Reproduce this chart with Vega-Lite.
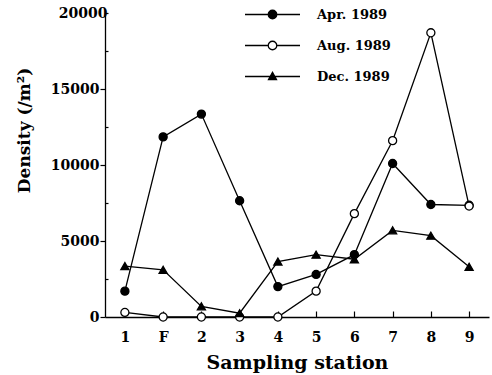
{
  "$schema": "https://vega.github.io/schema/vega-lite/v6.json",
  "width": 384,
  "height": 304,
  "autosize": "none",
  "padding": {"left": 105, "top": 13, "right": 3, "bottom": 58},
  "background": "white",
  "config": {
    "view": {"stroke": null},
    "font": "DejaVu Serif",
    "axis": {"labelFont": "DejaVu Serif", "titleFont": "DejaVu Serif", "labelFontWeight": "bold", "titleFontWeight": "bold", "labelColor": "black", "titleColor": "black", "domainColor": "black", "tickColor": "black", "grid": false}
  },
  "data": {"values": [
    {"station": "1", "series": "Apr. 1989", "density": 1700},
    {"station": "F", "series": "Apr. 1989", "density": 11850},
    {"station": "2", "series": "Apr. 1989", "density": 13350},
    {"station": "3", "series": "Apr. 1989", "density": 7650},
    {"station": "4", "series": "Apr. 1989", "density": 2000},
    {"station": "5", "series": "Apr. 1989", "density": 2800},
    {"station": "6", "series": "Apr. 1989", "density": 4100},
    {"station": "7", "series": "Apr. 1989", "density": 10100},
    {"station": "8", "series": "Apr. 1989", "density": 7400},
    {"station": "9", "series": "Apr. 1989", "density": 7350},
    {"station": "1", "series": "Aug. 1989", "density": 300},
    {"station": "F", "series": "Aug. 1989", "density": 0},
    {"station": "2", "series": "Aug. 1989", "density": 0},
    {"station": "3", "series": "Aug. 1989", "density": 0},
    {"station": "4", "series": "Aug. 1989", "density": 0},
    {"station": "5", "series": "Aug. 1989", "density": 1700},
    {"station": "6", "series": "Aug. 1989", "density": 6800},
    {"station": "7", "series": "Aug. 1989", "density": 11600},
    {"station": "8", "series": "Aug. 1989", "density": 18700},
    {"station": "9", "series": "Aug. 1989", "density": 7300},
    {"station": "1", "series": "Dec. 1989", "density": 3350},
    {"station": "F", "series": "Dec. 1989", "density": 3100},
    {"station": "2", "series": "Dec. 1989", "density": 700},
    {"station": "3", "series": "Dec. 1989", "density": 250},
    {"station": "4", "series": "Dec. 1989", "density": 3650},
    {"station": "5", "series": "Dec. 1989", "density": 4100},
    {"station": "6", "series": "Dec. 1989", "density": 3800},
    {"station": "7", "series": "Dec. 1989", "density": 5700},
    {"station": "8", "series": "Dec. 1989", "density": 5350},
    {"station": "9", "series": "Dec. 1989", "density": 3300}
  ]},
  "encoding": {
    "x": {
      "field": "station", "type": "nominal",
      "sort": ["1", "F", "2", "3", "4", "5", "6", "7", "8", "9"],
      "scale": {"type": "point", "padding": 0.52},
      "axis": {"title": "Sampling station", "labelAngle": 0, "labelFontSize": 14, "titleFontSize": 19, "tickSize": -6, "labelPadding": 19, "titlePadding": 9, "domainWidth": 1.3, "tickWidth": 1.2}
    },
    "y": {
      "field": "density", "type": "quantitative",
      "scale": {"domain": [0, 20000], "nice": false},
      "axis": {"title": "Density (/m²)", "format": "d", "values": [0, 2500, 5000, 7500, 10000, 12500, 15000, 17500, 20000],
        "labelExpr": "datum.value % 5000 === 0 ? datum.label : ''",
        "labelFontSize": 14, "titleFontSize": 17,
        "tickSize": {"condition": {"test": "datum.value % 5000 === 0 && datum.value < 20000", "value": 5}, "value": -3},
        "labelPadding": 1, "domainWidth": 1.3, "tickWidth": 1.2, "titleAngle": 270, "titleX": -81, "titleY": 117, "titleAlign": "center", "titleBaseline": "middle"}
    }
  },
  "layer": [
    {
      "mark": {"type": "line", "color": "black", "strokeWidth": 1.3},
      "encoding": {"detail": {"field": "series", "type": "nominal"}}
    },
    {
      "mark": {"type": "point", "filled": false, "stroke": "black", "strokeWidth": 1.3, "opacity": 1},
      "encoding": {
        "shape": {"field": "series", "type": "nominal", "scale": {"domain": ["Apr. 1989", "Aug. 1989", "Dec. 1989"], "range": ["circle", "circle", "triangle-up"]}, "legend": null},
        "fill": {"field": "series", "type": "nominal", "scale": {"domain": ["Apr. 1989", "Aug. 1989", "Dec. 1989"], "range": ["black", "white", "black"]}, "legend": null},
        "size": {"value": 65}
      }
    },
    {
      "transform": [{"filter": "false"}],
      "mark": {"type": "point", "filled": true, "strokeWidth": 1.3, "opacity": 1, "strokeOpacity": 1},
      "encoding": {
        "shape": {"field": "series", "type": "nominal", "scale": {"domain": ["Apr. 1989", "Aug. 1989", "Dec. 1989"], "range": [
          "M-5.5,0H-0.85M0.85,0H5.5M0.85,0A0.85,0.85,0,1,1,-0.85,0A0.85,0.85,0,1,1,0.85,0Z",
          "M-5.5,0H-0.85M0.85,0H5.5M0.85,0A0.85,0.85,0,1,1,-0.85,0A0.85,0.85,0,1,1,0.85,0Z",
          "M-5.5,0H5.5M0,-0.85L0.8,0.6L-0.8,0.6Z"
        ]}, "legend": {"title": null, "orient": "none", "legendX": 161, "legendY": -5, "symbolSize": 100, "symbolStrokeWidth": 1.3, "labelFont": "DejaVu Serif", "labelFontWeight": "bold", "labelFontSize": 13, "labelColor": "black", "labelOffset": 38, "rowPadding": 16, "padding": 0}},
        "fill": {"field": "series", "type": "nominal", "scale": {"domain": ["Apr. 1989", "Aug. 1989", "Dec. 1989"], "range": ["black", "white", "black"]}},
        "stroke": {"field": "series", "type": "nominal", "scale": {"domain": ["Apr. 1989", "Aug. 1989", "Dec. 1989"], "range": ["black", "black", "black"]}}
      }
    }
  ],
  "resolve": {"scale": {"shape": "independent", "fill": "independent", "stroke": "independent"}}
}
